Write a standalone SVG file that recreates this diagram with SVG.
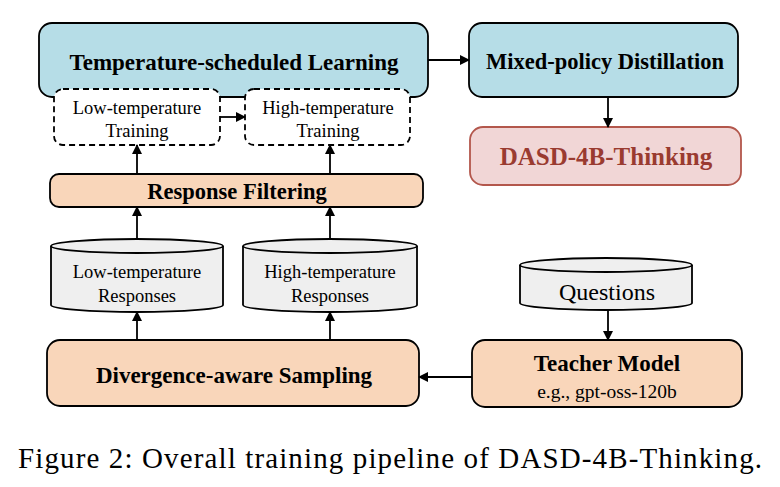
<svg xmlns="http://www.w3.org/2000/svg" width="780" height="487" viewBox="0 0 780 487">
<defs>
<marker id="ah" markerWidth="10" markerHeight="10" refX="9" refY="5" orient="auto" markerUnits="userSpaceOnUse">
<path d="M0,0 L10,5 L0,10 Z" fill="#000"/>
</marker>
<style>
text{font-family:"Liberation Serif","Times New Roman",serif;fill:#000;text-anchor:middle}
.b{font-weight:bold}
.blue{fill:#b6dde7;stroke:#000;stroke-width:1.8}
.orange{fill:#f9d6ba;stroke:#000;stroke-width:1.8}
.cyl{fill:#efefef;stroke:#000;stroke-width:1.8}
.dash{fill:#fff;stroke:#000;stroke-width:1.8;stroke-dasharray:6,4}
.red{fill:#f1d6d6;stroke:#b3574c;stroke-width:1.8}
.conn line{stroke:#000;stroke-width:1.8;marker-end:url(#ah)}
</style>
</defs>
<rect width="780" height="487" fill="#fff"/>
<g id="tsl">
<rect class="blue" x="39" y="23" width="389" height="74" rx="13"/>
<text class="b" x="234" y="70" font-size="23">Temperature-scheduled Learning</text>
</g>
<g id="lowtrain">
<rect class="dash" x="54" y="89" width="166" height="56" rx="9"/>
<text x="137" y="114" font-size="18.5">Low-temperature</text>
<text x="137" y="137" font-size="18.5">Training</text>
</g>
<g id="hightrain">
<rect class="dash" x="245" y="89" width="165" height="56" rx="9"/>
<text x="328" y="114" font-size="18.5">High-temperature</text>
<text x="328" y="137" font-size="18.5">Training</text>
</g>
<g id="mpd">
<rect class="blue" x="469" y="23" width="269" height="74" rx="13"/>
<text class="b" x="605" y="69" font-size="22.5">Mixed-policy Distillation</text>
</g>
<g id="dasd">
<rect class="red" x="470" y="127" width="271" height="58" rx="13"/>
<text class="b" x="606" y="165" font-size="25" style="fill:#9a3b30">DASD-4B-Thinking</text>
</g>
<g id="rf">
<rect class="orange" x="50" y="174" width="373" height="33" rx="9"/>
<text class="b" x="237" y="199" font-size="22.5">Response Filtering</text>
</g>
<g id="lowresp">
<path class="cyl" d="M51,246 A86,7 0 0 1 223,246 V305 A86,7 0 0 1 51,305 Z"/>
<path class="cyl" d="M51,246 A86,7 0 0 0 223,246" fill="none"/>
<text x="137" y="278" font-size="18.5">Low-temperature</text>
<text x="137" y="302" font-size="18.5">Responses</text>
</g>
<g id="highresp">
<path class="cyl" d="M243,246 A87,7 0 0 1 417,246 V305 A87,7 0 0 1 243,305 Z"/>
<path class="cyl" d="M243,246 A87,7 0 0 0 417,246" fill="none"/>
<text x="330" y="278" font-size="18.5">High-temperature</text>
<text x="330" y="302" font-size="18.5">Responses</text>
</g>
<g id="questions">
<path class="cyl" d="M520,265 A86,7 0 0 1 692,265 V303 A86,7 0 0 1 520,303 Z"/>
<path class="cyl" d="M520,265 A86,7 0 0 0 692,265" fill="none"/>
<text x="607" y="300" font-size="24">Questions</text>
</g>
<g id="das">
<rect class="orange" x="47" y="340" width="372" height="66" rx="13"/>
<text class="b" x="234" y="383" font-size="23">Divergence-aware Sampling</text>
</g>
<g id="teacher">
<rect class="orange" x="472" y="340" width="270" height="67" rx="13"/>
<text class="b" x="607" y="371" font-size="23">Teacher Model</text>
<text x="607" y="398" font-size="19.5">e.g., gpt-oss-120b</text>
</g>
<g class="conn">
<line x1="428" y1="60" x2="469" y2="60"/>
<line x1="608" y1="97" x2="608" y2="127"/>
<line x1="220" y1="117" x2="245" y2="117"/>
<line x1="137" y1="174" x2="137" y2="145"/>
<line x1="330" y1="174" x2="330" y2="145"/>
<line x1="137" y1="239" x2="137" y2="207"/>
<line x1="330" y1="239" x2="330" y2="207"/>
<line x1="137" y1="340" x2="137" y2="312"/>
<line x1="330" y1="340" x2="330" y2="312"/>
<line x1="608" y1="310" x2="608" y2="340"/>
<line x1="472" y1="377" x2="419" y2="377"/>
</g>
<text x="390" y="468" font-size="29" textLength="744" lengthAdjust="spacing">Figure 2: Overall training pipeline of DASD-4B-Thinking.</text>
</svg>
